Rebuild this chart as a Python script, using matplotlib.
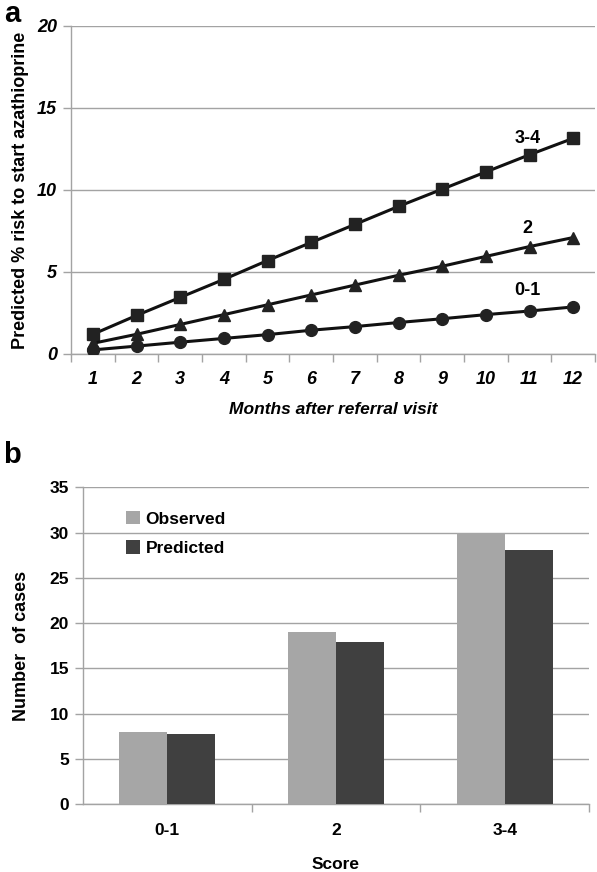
import matplotlib
matplotlib.use("Agg")
import matplotlib.pyplot as plt
import numpy as np

plt.rcParams['font.family'] = ['Liberation Sans', 'DejaVu Sans']

# ---- data panel a ----
months = [1, 2, 3, 4, 5, 6, 7, 8, 9, 10, 11, 12]
risk_34 = [1.2, 2.35, 3.45, 4.55, 5.7, 6.8, 7.9, 9.0, 10.05, 11.1, 12.15, 13.15]
risk_2 = [0.65, 1.2, 1.8, 2.4, 3.0, 3.6, 4.2, 4.8, 5.35, 5.95, 6.55, 7.1]
risk_01 = [0.25, 0.48, 0.72, 0.95, 1.18, 1.45, 1.67, 1.92, 2.15, 2.4, 2.62, 2.87]
series_labels = ['3-4', '2', '0-1']
a_yticks = [0, 5, 10, 15, 20]

# ---- data panel b ----
scores = ['0-1', '2', '3-4']
observed = [8, 19, 30]
predicted = [7.7, 17.9, 28.1]
b_yticks = [0, 5, 10, 15, 20, 25, 30, 35]

W, H = 597, 872
fig = plt.figure(figsize=(W / 100, H / 100), dpi=100)
grid_c = '#a3a3a3'

# ---------------- panel a ----------------
axa = fig.add_axes([71 / W, 1 - 354 / H, (595 - 71) / W, (354 - 26) / H])
for ys, mk, ms in [(risk_34, 's', 8.5), (risk_2, '^', 8.5), (risk_01, 'o', 8.5)]:
    axa.plot(months, ys, color='#111111', lw=2.2, marker=mk, markersize=ms,
             markerfacecolor='#222222', markeredgecolor='#222222', zorder=3)
axa.set_xlim(0.5, 12.5)
axa.set_ylim(0, 20)
axa.set_yticks(a_yticks)
axa.set_yticklabels([str(v) for v in a_yticks], fontsize=13, fontweight='bold', style='italic')
axa.set_xticks(months)
axa.set_xticklabels([str(m) for m in months], fontsize=13, fontweight='bold', style='italic')
axa.set_xticks(np.arange(0.5, 13, 1), minor=True)
axa.tick_params(axis='x', which='major', length=0, pad=12)
axa.tick_params(axis='x', which='minor', length=6, color=grid_c, width=1)
axa.tick_params(axis='y', which='major', length=6, color=grid_c, width=1, pad=4)
axa.grid(axis='y', color=grid_c, lw=1)
axa.set_axisbelow(True)
for s in ['top', 'right']:
    axa.spines[s].set_visible(False)
for s in ['left', 'bottom']:
    axa.spines[s].set_color(grid_c)
    axa.spines[s].set_linewidth(1)
axa.set_xlabel('Months after referral visit', fontsize=12.5, fontweight='bold', style='italic', labelpad=10)
axa.set_ylabel('Predicted % risk to start azathioprine', fontsize=13, fontweight='bold', labelpad=6)
label_y = [risk_34[-2] + 1.0, risk_2[-2] + 1.1, risk_01[-2] + 1.25]
for lab, yy in zip(series_labels, label_y):
    axa.text(10.95, yy, lab, fontsize=13, fontweight='bold', ha='center', va='center')
fig.text(12 / W, 1 - 14 / H, 'a', fontsize=21, fontweight='bold', ha='center', va='center')

# ---------------- panel b ----------------
axb = fig.add_axes([83 / W, 1 - 804 / H, (589 - 83) / W, (804 - 487.3) / H])
x = np.arange(len(scores))
bw = 0.285
axb.bar(x - bw / 2, observed, bw, color='#a6a6a6', label='Observed', zorder=3)
axb.bar(x + bw / 2, predicted, bw, color='#404040', label='Predicted', zorder=3)
axb.set_xlim(-0.5, 2.5)
axb.set_ylim(0, 35)
axb.set_yticks(b_yticks)
axb.set_yticklabels([str(v) for v in b_yticks], fontsize=12.5, fontweight='bold')
axb.set_xticks(x)
axb.set_xticklabels(scores, fontsize=12.5, fontweight='bold')
axb.set_xticks([0.5, 1.5, 2.5], minor=True)
axb.tick_params(axis='x', which='major', length=0, pad=14)
axb.tick_params(axis='x', which='minor', length=6, color=grid_c, width=1)
axb.tick_params(axis='y', which='major', length=6, color=grid_c, width=1, pad=4)
axb.grid(axis='y', color=grid_c, lw=1)
axb.set_axisbelow(True)
for s in ['top', 'right']:
    axb.spines[s].set_visible(False)
for s in ['left', 'bottom']:
    axb.spines[s].set_color(grid_c)
    axb.spines[s].set_linewidth(1)
axb.set_xlabel('Score', fontsize=12.5, fontweight='bold', labelpad=13)
axb.set_ylabel('Number  of cases', fontsize=13, fontweight='bold', labelpad=14)
axb.legend(loc='upper left', bbox_to_anchor=(0.055, 0.975), frameon=False,
           prop={'size': 12.5, 'weight': 'bold'}, handlelength=0.8, handleheight=0.8,
           handletextpad=0.3, labelspacing=0.8)
fig.text(12 / W, 1 - 455 / H, 'b', fontsize=21, fontweight='bold', ha='center', va='center')

fig.savefig('out.png', dpi=100)
